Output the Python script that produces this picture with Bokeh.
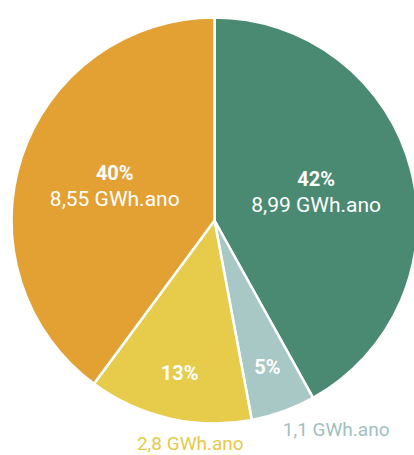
import numpy as np
from bokeh.plotting import figure
from bokeh.models import Range1d, ColumnDataSource
from bokeh.core.properties import value
from bokeh.embed import file_html
from bokeh.resources import INLINE

# ---- data ----
categories = ["A", "B", "C", "D"]
gwh = [8.99, 1.1, 2.8, 8.55]
pct_labels = ["42%", "5%", "13%", "40%"]
value_labels = ["8,99 GWh.ano", "1,1 GWh.ano", "2,8 GWh.ano", "8,55 GWh.ano"]

# ---- style ----
colors = ["#4a8a72", "#a8c8c6", "#e6cc4a", "#e3a133"]
outer_colors = ["#4a8a72", "#9fc0be", "#e6c94a", "#e3a133"]
W, H = 414, 455
cx, cy, R = 214, 235, 203
inside = [True, False, False, True]

vals = np.array(gwh, dtype=float)
frac = vals / vals.sum()
ang = frac * 2 * np.pi
start = np.pi / 2 - np.concatenate([[0], np.cumsum(ang)[:-1]])
end = start - ang
mid = (start + end) / 2

p = figure(width=W, height=H, output_backend="svg", toolbar_location=None,
           x_range=Range1d(0, W), y_range=Range1d(0, H), min_border=0,
           background_fill_color="white", border_fill_color="white")
p.axis.visible = False
p.grid.visible = False
p.outline_line_color = None

src = ColumnDataSource(dict(start=start, end=end, color=colors))
p.wedge(x=cx, y=cy, radius=R, start_angle="end", end_angle="start",
        fill_color="color", line_color="white", line_width=2.5, source=src)

font = value("Roboto")
for i in range(len(vals)):
    if inside[i]:
        r = 105
        x = cx + r * np.cos(mid[i])
        y = cy + r * np.sin(mid[i])
        p.text(x=[x], y=[y], text=[pct_labels[i]], text_font=font,
               text_font_size="20px", text_font_style="bold", text_color="white",
               text_align="center", text_baseline="middle", y_offset=-15)
        p.text(x=[x], y=[y], text=[value_labels[i]], text_font=font,
               text_font_size="21px", text_color="white",
               text_align="center", text_baseline="middle", y_offset=11)
    else:
        r = 156
        x = cx + r * np.cos(mid[i])
        y = cy + r * np.sin(mid[i])
        p.text(x=[x], y=[y], text=[pct_labels[i]], text_font=font,
               text_font_size="20px", text_font_style="bold", text_color="white",
               text_align="center", text_baseline="middle")

outer_r = {1: 222, 2: 229}
outer_align = {1: "left", 2: "center"}
outer_dx = {1: -7, 2: 27}
for i, r in outer_r.items():
    x = cx + r * np.cos(mid[i])
    y = cy + r * np.sin(mid[i])
    p.text(x=[x], y=[y], text=[value_labels[i]], text_font=font,
           text_font_size="19px", text_color=outer_colors[i],
           text_align=outer_align[i], text_baseline="middle", x_offset=outer_dx[i])

open("out.html", "w").write(file_html(p, INLINE))
